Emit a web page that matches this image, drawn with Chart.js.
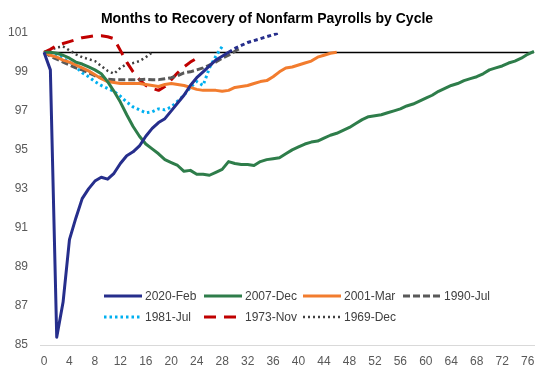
<!DOCTYPE html>
<html>
<head>
<meta charset="utf-8">
<script src="https://cdn.jsdelivr.net/npm/chart.js@4"></script>
<style>
  html, body { margin: 0; padding: 0; background: #fff; }
  #wrap { width: 555px; height: 375px; }
</style>
</head>
<body>
<div id="wrap"><canvas id="chart" width="555" height="375"></canvas></div>
<script>
// months since the pre-recession peak
const months = [0,1,2,3,4,5,6,7,8,9,10,11,12,13,14,15,16,17,18,19,20,21,22,23,24,25,26,27,28,29,30,31,32,33,34,35,36,37,38,39,
  40,41,42,43,44,45,46,47,48,49,50,51,52,53,54,55,56,57,58,59,60,61,62,63,64,65,66,67,68,69,70,71,72,73,74,75,76,77];

// payrolls, index = 100 at the peak
const feb2020 = [100,99.1,85.4,87.2,90.4,91.5,92.5,93.0,93.4,93.6,93.5,93.8,94.3,94.7,94.9,95.2,95.7,96.1,96.4,96.6,
  97.0,97.4,97.8,98.3,98.7,99.0,99.3,99.6,99.8,100.0,100.2,100.35,100.5,100.6,100.7,100.8,100.9,101.0];
const feb2020Actual = 29; // after this month the line is a projection (dotted)
const dec2007 = [100,100.0,99.95,99.85,99.7,99.5,99.4,99.25,99.1,98.9,98.5,98.0,97.45,96.8,96.2,95.7,95.3,95.05,94.8,94.5,
  94.35,94.2,93.9,93.95,93.75,93.75,93.7,93.85,94.0,94.4,94.3,94.25,94.25,94.2,94.4,94.5,94.55,94.6,94.8,95.0,
  95.15,95.3,95.4,95.45,95.6,95.75,95.85,96.0,96.15,96.35,96.55,96.7,96.75,96.8,96.9,97.0,97.1,97.25,97.35,97.5,
  97.65,97.8,98.0,98.15,98.3,98.4,98.55,98.65,98.75,98.9,99.1,99.2,99.3,99.45,99.55,99.7,99.9,100.05];
const mar2001 = [100,99.85,99.75,99.6,99.5,99.35,99.2,99.05,98.85,98.65,98.5,98.45,98.4,98.4,98.4,98.4,98.35,98.3,98.25,98.35,
  98.4,98.35,98.3,98.2,98.1,98.05,98.05,98.05,98.0,98.05,98.2,98.25,98.3,98.4,98.5,98.55,98.75,99.0,99.2,99.25,
  99.35,99.45,99.55,99.75,99.85,99.95,100.0];
const jul1990 = [100,99.8,99.65,99.5,99.35,99.2,99.1,98.95,98.8,98.7,98.62,98.6,98.6,98.6,98.6,98.6,98.62,98.6,98.6,98.65,
  98.7,98.8,98.95,99.0,99.1,99.2,99.35,99.5,99.7,99.85,100.05,100.25];
const jul1981 = [100,99.95,99.85,99.7,99.5,99.25,98.95,98.75,98.5,98.3,98.15,98.0,97.75,97.45,97.2,97.05,96.9,96.95,97.1,97.05,
  97.2,97.5,97.8,98.2,98.5,98.3,99.2,99.8,100.3];
const nov1973 = [100,100.15,100.35,100.45,100.55,100.65,100.75,100.8,100.85,100.85,100.8,100.7,100.1,99.5,99.0,98.6,98.3,98.15,98.05,98.25,
  98.6,98.95,99.25,99.5,99.7];
const dec1969 = [100,100.1,100.25,100.3,100.1,99.9,99.75,99.65,99.55,99.3,99.05,98.9,99.2,99.4,99.45,99.55,99.75,100.0];

const seriesLabels = ['2020-Feb','2007-Dec','2001-Mar','1990-Jul','1981-Jul','1973-Nov','1969-Dec'];
const yTicks = [85,87,89,91,93,95,97,99,101];
const refLevel = 100;

const FONT = '"Liberation Sans", Arial, sans-serif';

// light axis line at the bottom + black line at 100
const refLine = {
  id: 'refLine',
  beforeDatasetsDraw(chart) {
    const {ctx, chartArea, scales} = chart;
    ctx.save();
    ctx.strokeStyle = '#d9d9d9';
    ctx.lineWidth = 1;
    ctx.beginPath();
    ctx.moveTo(chartArea.left - 4, Math.round(chartArea.bottom) + 0.5);
    ctx.lineTo(chartArea.right + 1, Math.round(chartArea.bottom) + 0.5);
    ctx.stroke();
    const y = Math.round(scales.y.getPixelForValue(refLevel)) + 0.5;
    ctx.strokeStyle = '#000';
    ctx.lineWidth = 1.3;
    ctx.beginPath();
    ctx.moveTo(chartArea.left, y);
    ctx.lineTo(chartArea.right, y);
    ctx.stroke();
    ctx.restore();
  }
};

// legend drawn inside the plot, two rows of four columns
const innerLegend = {
  id: 'innerLegend',
  afterDraw(chart) {
    const ctx = chart.ctx;
    const cols = [104, 204, 303, 403], rows = [296, 317];
    ctx.save();
    ctx.font = '12px ' + FONT;
    ctx.textBaseline = 'middle';
    chart.data.datasets.forEach((ds, i) => {
      const x = cols[i % 4], y = rows[Math.floor(i / 4)];
      ctx.strokeStyle = ds.borderColor;
      ctx.lineWidth = ds.borderWidth;
      ctx.setLineDash(ds.borderDash || []);
      ctx.beginPath();
      ctx.moveTo(x, y);
      ctx.lineTo(x + 38, y);
      ctx.stroke();
      ctx.setLineDash([]);
      ctx.fillStyle = '#404040';
      ctx.fillText(ds.label, x + 41, y + 1);
    });
    ctx.restore();
  }
};

const mk = (label, data, color, width, dash) => ({
  label: label, data: data, borderColor: color, backgroundColor: color,
  borderWidth: width, borderDash: dash, borderJoinStyle: 'round',
  pointRadius: 0, tension: 0, fill: false
});

const datasets = [
  mk(seriesLabels[0], feb2020, '#262e8c', 3, []),
  mk(seriesLabels[1], dec2007, '#2e7d4a', 3, []),
  mk(seriesLabels[2], mar2001, '#f27c2e', 3, []),
  mk(seriesLabels[3], jul1990, '#595959', 3, [7, 3]),
  mk(seriesLabels[4], jul1981, '#00b0f0', 3, [2.5, 3]),
  mk(seriesLabels[5], nov1973, '#c00000', 3, [12, 8]),
  mk(seriesLabels[6], dec1969, '#404040', 2.5, [2, 3])
];
datasets[0].segment = {
  borderDash: c => c.p0DataIndex >= feb2020Actual ? [4, 3] : undefined
};

new Chart(document.getElementById('chart'), {
  type: 'line',
  data: { labels: months, datasets: datasets },
  options: {
    responsive: false,
    animation: false,
    layout: { padding: { left: 0, right: 21, top: 0, bottom: 0 } },
    plugins: {
      legend: { display: false },
      tooltip: { enabled: false },
      title: {
        display: true,
        text: 'Months to Recovery of Nonfarm Payrolls by Cycle',
        color: '#000',
        font: { family: FONT, size: 14, weight: 'bold' },
        padding: { top: 11, bottom: 5 }
      }
    },
    scales: {
      x: {
        type: 'category',
        offset: false,
        grid: { display: false, drawTicks: false },
        border: { display: false },
        ticks: {
          autoSkip: false, maxRotation: 0, padding: 9,
          color: '#595959', font: { family: FONT, size: 12 },
          callback: (v, i) => (months[i] % 4 === 0 && months[i] <= 76) ? String(months[i]) : ''
        },
        afterFit: s => { s.height = 30; }
      },
      y: {
        min: yTicks[0], max: yTicks[yTicks.length - 1],
        grid: { display: false, drawTicks: false },
        border: { display: false },
        ticks: {
          stepSize: 2, padding: 16,
          color: '#595959', font: { family: FONT, size: 12 }
        },
        afterFit: s => { s.width = 44; }
      }
    }
  },
  plugins: [refLine, innerLegend]
});
</script>
</body>
</html>
